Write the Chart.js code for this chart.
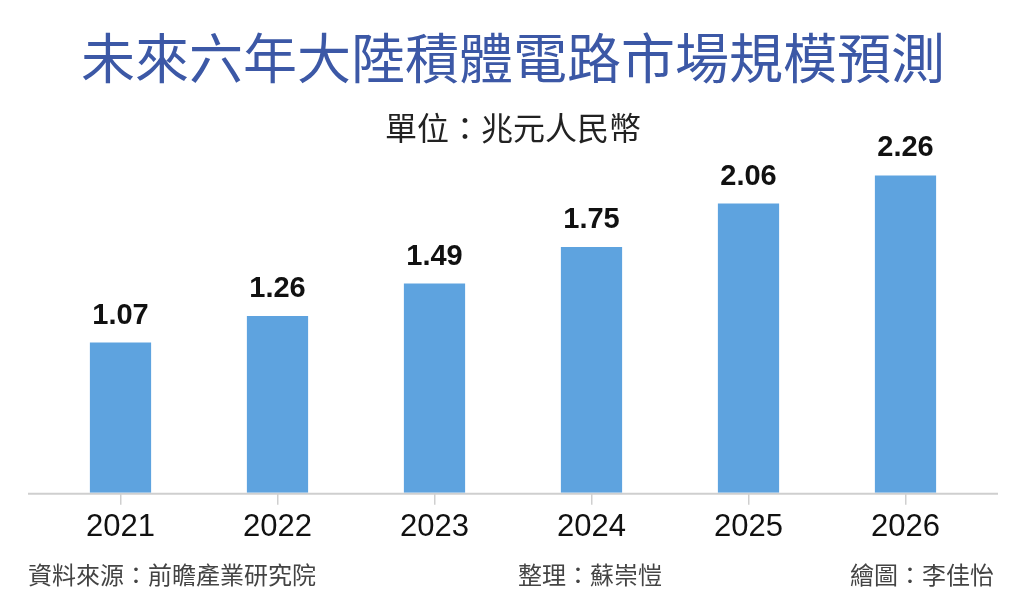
<!DOCTYPE html>
<html>
<head>
<meta charset="utf-8">
<script src="https://cdn.jsdelivr.net/npm/chart.js@4"></script>
<style>
  html, body { margin: 0; padding: 0; background: #fff; }
  #wrap { position: relative; width: 1024px; height: 602px; }
  .foot {
    position: absolute; top: 560px;
    font-family: "Noto Sans CJK TC", sans-serif; font-size: 24px;
    line-height: 28px; color: #444; white-space: nowrap;
  }
</style>
</head>
<body>
<div id="wrap">
  <canvas id="icMarketChart" width="1024" height="602"></canvas>
  <div class="foot" style="left:28px;">資料來源：前瞻產業研究院</div>
  <div class="foot" style="left:518px;">整理：蘇崇愷</div>
  <div class="foot" style="right:30px;">繪圖：李佳怡</div>
</div>
<script>
var years = ['2021', '2022', '2023', '2024', '2025', '2026'];
var marketSize = [1.07, 1.26, 1.49, 1.75, 2.06, 2.26];

var titleText = '未來六年大陸積體電路市場規模預測';
var unitText = '單位：兆元人民幣';

// value labels above each bar
var valueLabels = {
    id: 'valueLabels',
    afterDatasetsDraw: function (chart) {
        var ctx = chart.ctx;
        var meta = chart.getDatasetMeta(0);
        ctx.save();
        ctx.font = 'bold 29px "Liberation Sans", Arial, sans-serif';
        ctx.fillStyle = '#111';
        ctx.textAlign = 'center';
        ctx.textBaseline = 'alphabetic';
        meta.data.forEach(function (bar, i) {
            ctx.fillText(marketSize[i].toFixed(2), bar.x, bar.y - 19);
        });
        ctx.restore();
    }
};

// baseline a little wider than the plot area
var baseLine = {
    id: 'baseLine',
    beforeDatasetsDraw: function (chart) {
        var ctx = chart.ctx;
        var area = chart.chartArea;
        ctx.save();
        ctx.strokeStyle = '#cfcfcf';
        ctx.lineWidth = 2;
        ctx.beginPath();
        ctx.moveTo(area.left - 14, area.bottom + 1);
        ctx.lineTo(area.right + 14, area.bottom + 1);
        ctx.stroke();
        ctx.restore();
    }
};

var ctx = document.getElementById('icMarketChart').getContext('2d');

new Chart(ctx, {
    type: 'bar',
    data: {
        labels: years,
        datasets: [{
            data: marketSize,
            backgroundColor: '#5ea3df',
            borderWidth: 0,
            barPercentage: 0.39,
            categoryPercentage: 1.0,
        }],
    },
    options: {
        responsive: false,
        animation: false,
        layout: {
            padding: { left: 42, right: 40, top: 0, bottom: 52 },
        },
        plugins: {
            legend: { display: false },
            tooltip: { enabled: false },
            title: {
                display: true,
                text: titleText,
                color: '#3c58a6',
                font: { family: '"Noto Sans CJK TC", sans-serif', size: 54, weight: 'normal', lineHeight: 1 },
                padding: { top: 31, bottom: 0 },
            },
            subtitle: {
                display: true,
                text: unitText,
                color: '#222',
                font: { family: '"Noto Sans CJK TC", sans-serif', size: 32, weight: 'normal', lineHeight: 0.9 },
                padding: { top: 28, bottom: 0 },
            },
        },
        scales: {
            x: {
                offset: true,
                border: { display: false },
                grid: {
                    offset: false,
                    drawOnChartArea: false,
                    drawTicks: true,
                    tickLength: 12,
                    color: '#cfcfcf',
                    lineWidth: 1.5,
                },
                ticks: {
                    color: '#111',
                    padding: 4,
                    font: { family: '"Liberation Sans", Arial, sans-serif', size: 31, lineHeight: 1.2 },
                },
            },
            y: {
                display: false,
                beginAtZero: true,
                min: 0,
                max: 2.5,
            },
        },
    },
    plugins: [baseLine, valueLabels],
});
</script>
</body>
</html>
